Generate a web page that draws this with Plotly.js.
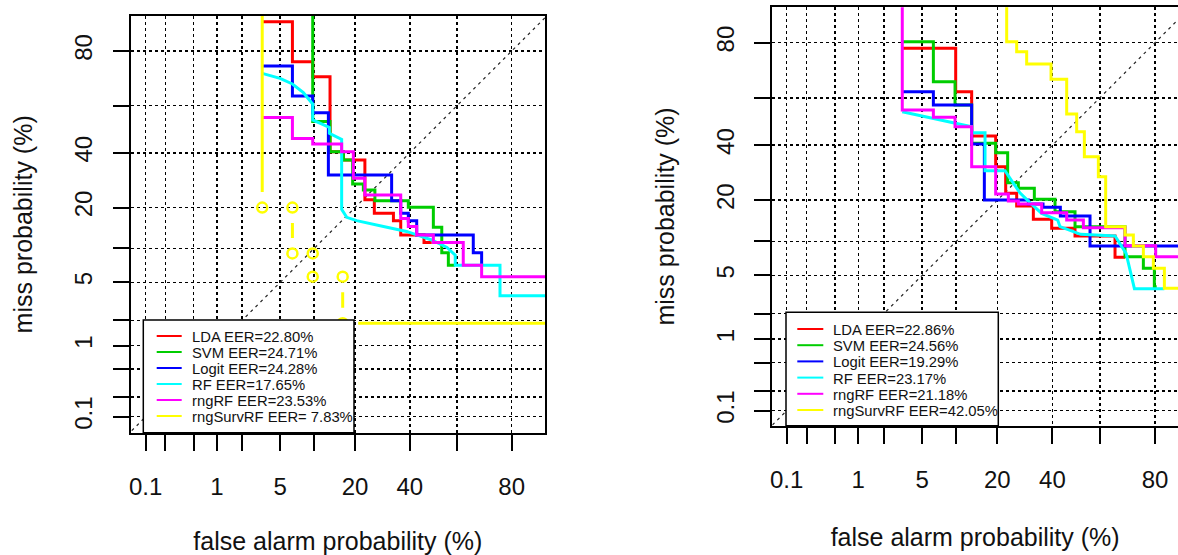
<!DOCTYPE html>
<html><head><meta charset="utf-8">
<script src="https://cdn.plot.ly/plotly-3.0.1.min.js"></script>
<style>html,body{margin:0;padding:0;background:#fff;overflow:hidden}#chart{width:1178px;height:555px}</style>
</head><body><div id="chart"></div>
<script>
// ---------- data (percent) ----------
const SERIES = ['LDA', 'SVM', 'Logit', 'RF', 'rngRF', 'rngSurvRF'];
const COLORS = ['#FF0000', '#00CD00', '#0000FF', '#00FFFF', '#FF00FF', '#FFFF00'];
const EER_LEFT = ['22.80', '24.71', '24.28', '17.65', '23.53', '\u00a07.83'];
const EER_RIGHT = ['22.86', '24.56', '19.29', '23.17', '21.18', '42.05'];
const TICK_PCT = [0.1, 0.2, 0.5, 1, 2, 5, 10, 20, 40, 60, 80];
const TICK_LABELS = ['0.1', '', '', '1', '', '5', '', '20', '40', '', '80'];
const DIAG = [0.01, 99.99];
const X_TITLE = 'false alarm probability (%)';
const Y_TITLE = 'miss probability (%)';

// left panel
const L_LDA_FA = [3.3, 6.5, 9.75, 13.35, 16.7, 23.1, 26.3, 33.4, 36.3, 46.0, 49.3];
const L_LDA_MISS = [87.6, 76.6, 71.4, 40.5, 37.1, 22.4, 18.3, 16.3, 12.8, 11.2, 11.2];
const L_SVM_FA = [9.75, 9.75, 13.35, 16.7, 19.3, 22.6, 26.5, 39.4, 50.0, 53.6, 56.4, 59.2];
const L_SVM_MISS = [99.9, 53.3, 40.5, 37.1, 27.8, 25.7, 22.1, 20.1, 14.6, 9.2, 7.2, 7.2];
const L_LOGIT_FA = [3.3, 6.5, 9.75, 12.97, 32.7, 36.3, 39.4, 42.9, 66.6, 69.8];
const L_LOGIT_MISS = [75.2, 64.0, 57.1, 31.2, 22.1, 18.3, 16.3, 12.8, 9.2, 7.2];
const L_RF_FA = [3.3, 4.98, 6.5, 8.13, 9.75, 9.75, 13.2, 13.2, 16.23, 16.23, 17.6, 20.5, 29.6, 38.7, 45.7, 49.3, 55.8, 59.3, 59.3, 76.3, 76.3, 99.9];
const L_RF_MISS = [72.6, 70.8, 68.7, 65.3, 60.7, 54.0, 50.8, 48.3, 45.7, 19.5, 17.2, 16.3, 14.8, 13.6, 12.3, 11.7, 10.2, 8.8, 7.2, 7.2, 3.68, 3.68];
const L_RNGRF_FA = [3.3, 6.5, 9.75, 16.23, 19.5, 23.1, 36.3, 39.4, 42.9, 50.0, 62.6, 69.8, 99.9];
const L_RNGRF_MISS = [55.0, 46.1, 43.7, 40.5, 29.9, 24.0, 16.9, 14.8, 12.8, 11.2, 7.2, 5.65, 5.65];
const L_SURV_FA = [3.3, 3.3, 6.5, 6.5, 9.75, 9.75, 16.5, 16.5, 99.9];
const L_SURV_MISS = [99.9, 20.0, 20.0, 9.1, 9.1, 5.65, 5.65, 1.85, 1.85];

// right panel
const R_LDA_FA = [3.17, 9.92, 13.23, 19.51, 22.59, 26.27, 32.38, 39.69, 49.51, 66.09, 69.9];
const R_LDA_MISS = [78.27, 62.49, 43.83, 31.45, 22.13, 18.32, 14.79, 12.68, 11.05, 7.33, 7.33];
const R_SVM_FA = [3.17, 6.37, 9.8, 13.23, 19.51, 23.23, 26.85, 32.76, 41.07, 49.51, 69.9, 76.34, 79.8, 80.5];
const R_SVM_MISS = [80.3, 66.46, 56.98, 40.76, 36.94, 25.66, 23.75, 20.27, 16.76, 13.05, 7.43, 5.83, 3.88, 3.88];
const R_LOGIT_FA = [3.17, 6.37, 13.23, 16.35, 30.49, 36.17, 43.29, 55.88, 99.9];
const R_LOGIT_MISS = [62.49, 56.98, 40.48, 20.07, 18.89, 17.95, 15.62, 9.17, 9.17];
const R_RF_FA = [3.17, 6.37, 9.8, 13.23, 13.23, 16.53, 16.53, 22.37, 24.0, 27.4, 31.36, 35.64, 42.18, 43.16, 51.9, 66.09, 70.3, 73.3, 82.68];
const R_RF_MISS = [54.17, 51.33, 49.2, 47.78, 45.23, 45.23, 29.95, 29.95, 27.2, 22.3, 19.08, 16.31, 14.62, 13.05, 11.39, 11.05, 7.94, 3.7, 3.7];
const R_RNGRF_FA = [3.17, 3.17, 6.37, 9.8, 13.23, 19.51, 23.45, 26.85, 35.64, 45.97, 53.06, 69.9, 80.2, 99.9];
const R_RNGRF_MISS = [99.9, 54.87, 51.76, 47.78, 31.45, 21.91, 19.77, 18.89, 16.49, 14.62, 12.82, 9.22, 7.43, 7.43];
const R_SURV_FA = [22.91, 22.91, 26.27, 29.86, 39.42, 45.97, 50.22, 53.48, 59.36, 62.37, 69.9, 72.92, 76.34, 79.5, 82.68, 99.9];
const R_SURV_MISS = [99.9, 80.3, 77.2, 73.03, 67.36, 53.18, 45.66, 35.34, 27.77, 13.05, 11.25, 9.17, 7.43, 5.83, 3.73, 3.73];

// ---------- helpers ----------
function qnorm(p) {
  const a = [-3.969683028665376e+01, 2.209460984245205e+02, -2.759285104469687e+02, 1.383577518672690e+02, -3.066479806614716e+01, 2.506628277459239e+00];
  const b = [-5.447609879822406e+01, 1.615858368580409e+02, -1.556989798598866e+02, 6.680131188771972e+01, -1.328068155288572e+01];
  const c = [-7.784894002430293e-03, -3.223964580411365e-01, -2.400758277161838e+00, -2.549732539343734e+00, 4.374664141464968e+00, 2.938163982698783e+00];
  const d = [7.784695709041462e-03, 3.224671290700398e-01, 2.445134137142996e+00, 3.754408661907416e+00];
  const pl = 0.02425, ph = 1 - pl;
  let q, r;
  if (p < pl) { q = Math.sqrt(-2 * Math.log(p)); return (((((c[0]*q+c[1])*q+c[2])*q+c[3])*q+c[4])*q+c[5]) / ((((d[0]*q+d[1])*q+d[2])*q+d[3])*q+1); }
  if (p <= ph) { q = p - 0.5; r = q*q; return (((((a[0]*r+a[1])*r+a[2])*r+a[3])*r+a[4])*r+a[5])*q / (((((b[0]*r+b[1])*r+b[2])*r+b[3])*r+b[4])*r+1); }
  q = Math.sqrt(-2 * Math.log(1 - p));
  return -(((((c[0]*q+c[1])*q+c[2])*q+c[3])*q+c[4])*q+c[5]) / ((((d[0]*q+d[1])*q+d[2])*q+d[3])*q+1);
}
const W = 1178, H = 555;
const px = x => x / W, py = y => 1 - y / H;
const pr = p => qnorm(p / 100);
const FONT = 'Liberation Sans, Arial, Helvetica, sans-serif';
const TICKVALS = TICK_PCT.map(pr);

function line(fa, miss, color, xa, ya, shape) {
  return {type: 'scatter', mode: 'lines', x: fa.map(pr), y: miss.map(pr), xaxis: xa, yaxis: ya,
          line: {color: color, width: 3, shape: shape}, hoverinfo: 'skip', showlegend: false};
}
function diag(xa, ya) {
  return {type: 'scatter', mode: 'lines', x: DIAG.map(pr), y: DIAG.map(pr), xaxis: xa, yaxis: ya,
          line: {color: '#222', width: 1.2, dash: '3px,4px'}, hoverinfo: 'skip', showlegend: false};
}
// R type="b": lines stop short of each point
function gapped(fa, miss, color, xa, ya, gapUnits) {
  const X = fa.map(pr), Y = miss.map(pr);
  const xs = [], ys = [];
  for (let i = 0; i < X.length - 1; i++) {
    const dx = X[i+1] - X[i], dy = Y[i+1] - Y[i], L = Math.hypot(dx, dy);
    if (L <= 2 * gapUnits) continue;
    const ux = dx / L, uy = dy / L;
    xs.push(X[i] + ux*gapUnits, X[i+1] - ux*gapUnits, null);
    ys.push(Y[i] + uy*gapUnits, Y[i+1] - uy*gapUnits, null);
  }
  return [
    {type: 'scatter', mode: 'lines', x: xs, y: ys, xaxis: xa, yaxis: ya, connectgaps: false,
     line: {color: color, width: 3}, hoverinfo: 'skip', showlegend: false},
    {type: 'scatter', mode: 'markers', x: X, y: Y, xaxis: xa, yaxis: ya,
     marker: {symbol: 'circle-open', size: 10, color: color, line: {width: 2.5, color: color}},
     hoverinfo: 'skip', showlegend: false}
  ];
}

const traces = [
  diag('x', 'y'),
  line(L_LDA_FA, L_LDA_MISS, COLORS[0], 'x', 'y', 'hv'),
  line(L_SVM_FA, L_SVM_MISS, COLORS[1], 'x', 'y', 'hv'),
  line(L_LOGIT_FA, L_LOGIT_MISS, COLORS[2], 'x', 'y', 'hv'),
  line(L_RF_FA, L_RF_MISS, COLORS[3], 'x', 'y', 'linear'),
  line(L_RNGRF_FA, L_RNGRF_MISS, COLORS[4], 'x', 'y', 'hv'),
  ...gapped(L_SURV_FA, L_SURV_MISS, COLORS[5], 'x', 'y', 15.5 / 93),
  diag('x2', 'y2'),
  line(R_LDA_FA, R_LDA_MISS, COLORS[0], 'x2', 'y2', 'hv'),
  line(R_SVM_FA, R_SVM_MISS, COLORS[1], 'x2', 'y2', 'hv'),
  line(R_LOGIT_FA, R_LOGIT_MISS, COLORS[2], 'x2', 'y2', 'hv'),
  line(R_RF_FA, R_RF_MISS, COLORS[3], 'x2', 'y2', 'linear'),
  line(R_RNGRF_FA, R_RNGRF_MISS, COLORS[4], 'x2', 'y2', 'hv'),
  line(R_SURV_FA, R_SURV_MISS, COLORS[5], 'x2', 'y2', 'hv')
];

function xAxis(domain, range, anchor) {
  return {domain: domain, range: range, anchor: anchor, tickmode: 'array', tickvals: TICKVALS, ticktext: TICK_LABELS,
    ticks: 'outside', ticklen: 16, tickwidth: 2, tickcolor: '#000', showline: true, linewidth: 2, linecolor: '#000',
    mirror: true, showgrid: true, gridcolor: '#000', gridwidth: 1.5, griddash: '3px,3px', zeroline: false,
    tickangle: 0, ticklabelstandoff: 15, tickfont: {family: FONT, size: 24, color: '#111'},
    title: {text: X_TITLE, font: {family: FONT, size: 25, color: '#111'}, standoff: 37}, fixedrange: true};
}
function yAxis(domain, range, anchor, mirror) {
  return {domain: domain, range: range, anchor: anchor, tickmode: 'array', tickvals: TICKVALS, ticktext: TICK_LABELS,
    ticks: 'outside', ticklen: 16, tickwidth: 2, tickcolor: '#000', showline: true, linewidth: 2, linecolor: '#000',
    mirror: mirror, showgrid: true, gridcolor: '#000', gridwidth: 1.5, griddash: '3px,3px', zeroline: false,
    tickangle: -90, ticklabelstandoff: 11, tickfont: {family: FONT, size: 24, color: '#111'},
    title: {text: Y_TITLE, font: {family: FONT, size: 25, color: '#111'}, standoff: 30}, fixedrange: true};
}

const shapes = [], annotations = [];
function legendBox(box, lx0, lx1, tx, row0, dy, eers) {
  shapes.push({type: 'rect', xref: 'paper', yref: 'paper', x0: px(box[0]), x1: px(box[2]), y0: py(box[3]), y1: py(box[1]),
    fillcolor: '#fff', line: {color: '#000', width: 1.5}, layer: 'above'});
  SERIES.forEach((s, i) => {
    const y = row0 + dy * i;
    shapes.push({type: 'line', xref: 'paper', yref: 'paper', x0: px(lx0), x1: px(lx1), y0: py(y), y1: py(y),
      line: {color: COLORS[i], width: 2}, layer: 'above'});
    annotations.push({xref: 'paper', yref: 'paper', x: px(tx), y: py(y + 1), xanchor: 'left', yanchor: 'middle',
      showarrow: false, text: s + ' EER=' + eers[i] + '%', font: {family: FONT, size: 14.8, color: '#111'}});
  });
}
legendBox([143.3, 320, 354, 432.7], 156.7, 181.7, 189.7, 336, 16, EER_LEFT);
legendBox([786, 312.3, 998.3, 425.7], 797.3, 823.3, 831.3, 329, 16.2, EER_RIGHT);

const layout = {
  width: W, height: H, margin: {l: 0, r: 0, t: 0, b: 0, pad: 0},
  paper_bgcolor: '#fff', plot_bgcolor: '#fff', showlegend: false,
  xaxis: xAxis([130.7 / W, 545 / W], [-3.2514, 1.1994], 'y'),
  yaxis: yAxis([(H - 432.7) / H, (H - 16) / H], [-3.2622, 1.218], 'x', true),
  xaxis2: xAxis([772.3 / W, 1], [-3.2439, 1.0871], 'y2'),
  yaxis2: yAxis([(H - 425.7) / H, (H - 7.3) / H], [-3.2505, 1.2198], 'x2', false),
  shapes: shapes, annotations: annotations
};
Plotly.newPlot('chart', traces, layout, {displayModeBar: false, staticPlot: true});
</script></body></html>
